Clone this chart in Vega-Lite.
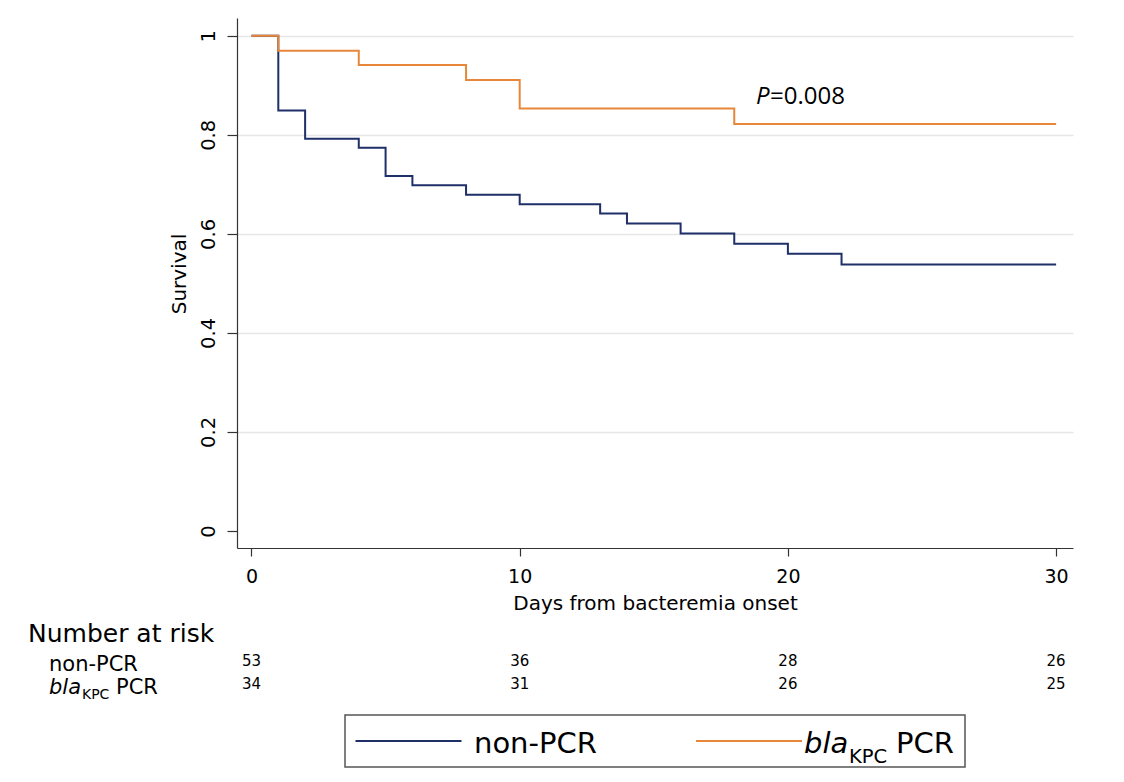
{
  "$schema": "https://vega.github.io/schema/vega-lite/v6.json",
  "background": "white",
  "padding": {"left": 27, "top": 18, "right": 52, "bottom": 15},
  "config": {
    "view": {"stroke": null},
    "font": "DejaVu Sans",
    "axis": {
      "labelFont": "DejaVu Sans",
      "titleFont": "DejaVu Sans",
      "labelColor": "#000",
      "titleColor": "#000",
      "titleFontWeight": "normal",
      "domainColor": "#333",
      "tickColor": "#333",
      "domainWidth": 1.2,
      "tickWidth": 1.2,
      "labelFlush": false
    },
    "text": {"color": "#000"}
  },
  "datasets": {
    "km": [
      {"group": "non-PCR", "day": 0, "surv": 1},
      {"group": "non-PCR", "day": 1, "surv": 0.849},
      {"group": "non-PCR", "day": 2, "surv": 0.792},
      {"group": "non-PCR", "day": 4, "surv": 0.774},
      {"group": "non-PCR", "day": 5, "surv": 0.717},
      {"group": "non-PCR", "day": 6, "surv": 0.698},
      {"group": "non-PCR", "day": 8, "surv": 0.679},
      {"group": "non-PCR", "day": 10, "surv": 0.66},
      {"group": "non-PCR", "day": 13, "surv": 0.641},
      {"group": "non-PCR", "day": 14, "surv": 0.621},
      {"group": "non-PCR", "day": 16, "surv": 0.601},
      {"group": "non-PCR", "day": 18, "surv": 0.58},
      {"group": "non-PCR", "day": 20, "surv": 0.56},
      {"group": "non-PCR", "day": 22, "surv": 0.538},
      {"group": "non-PCR", "day": 30, "surv": 0.538},
      {"group": "bla", "day": 0, "surv": 1},
      {"group": "bla", "day": 1, "surv": 0.97},
      {"group": "bla", "day": 4, "surv": 0.941},
      {"group": "bla", "day": 8, "surv": 0.911},
      {"group": "bla", "day": 10, "surv": 0.853},
      {"group": "bla", "day": 18, "surv": 0.822},
      {"group": "bla", "day": 30, "surv": 0.822}
    ],
    "risk": [
      {"group": "non-PCR", "day": 0, "n": 53},
      {"group": "non-PCR", "day": 10, "n": 36},
      {"group": "non-PCR", "day": 20, "n": 28},
      {"group": "non-PCR", "day": 30, "n": 26},
      {"group": "bla", "day": 0, "n": 34},
      {"group": "bla", "day": 10, "n": 31},
      {"group": "bla", "day": 20, "n": 26},
      {"group": "bla", "day": 30, "n": 25}
    ],
    "labels": [
      {"group": "Number at risk", "part": "header", "label": "Number at risk"},
      {"group": "non-PCR", "part": "main", "label": "non-PCR"},
      {"group": "bla", "part": "italic", "label": "bla"},
      {"group": "bla", "part": "sub", "label": "KPC"},
      {"group": "bla", "part": "rest", "label": "PCR"}
    ]
  },
  "bounds": "flush",
  "spacing": 14.5,
  "center": true,
  "vconcat": [
    {
      "width": 836,
      "height": 530,
      "layer": [
        {
          "data": {"name": "km"},
          "mark": {"type": "line", "interpolate": "step-after", "strokeWidth": 2},
          "encoding": {
            "x": {
              "field": "day", "type": "quantitative",
              "scale": {"domain": [-0.54, 30.63], "nice": false, "zero": false},
              "axis": {
                "values": [0, 10, 20, 30],
                "title": "Days from bacteremia onset",
                "labelFontSize": 19,
                "titleFontSize": 20,
                "tickSize": 8,
                "labelPadding": 11,
                "titlePadding": 7,
                "grid": false
              }
            },
            "y": {
              "field": "surv", "type": "quantitative",
              "scale": {"domain": [-0.0343, 1.036], "nice": false, "zero": false},
              "axis": {
                "values": [0, 0.2, 0.4, 0.6, 0.8, 1],
                "format": "~g",
                "title": "Survival",
                "labelFontSize": 19.5,
                "titleFontSize": 20,
                "tickSize": 10,
                "labelAngle": -90,
                "labelAlign": "center",
                "labelBaseline": "alphabetic",
                "labelPadding": 13,
                "titlePadding": 9,
                "titleY": 255.5,
                "grid": true,
                "gridColor": "#e6e6e6",
                "gridWidth": 1.5,
                "gridOpacity": {"condition": {"test": "datum.value === 0", "value": 0}, "value": 1}
              }
            },
            "color": {
              "field": "group", "type": "nominal",
              "scale": {"domain": ["non-PCR", "bla"], "range": ["#1f2f68", "#e8873a"]},
              "legend": null
            }
          }
        },
        {
          "data": {"values": [{"label": "P"}]},
          "mark": {"type": "text", "font": "Open Sans", "fontSize": 24, "fontStyle": "italic", "align": "left", "baseline": "alphabetic"},
          "encoding": {
            "x": {"datum": 18.81, "type": "quantitative"},
            "y": {"datum": 0.8626, "type": "quantitative"},
            "text": {"field": "label", "type": "nominal"}
          }
        },
        {
          "data": {"values": [{"label": "=0.008"}]},
          "mark": {"type": "text", "font": "Open Sans", "fontSize": 24, "align": "left", "baseline": "alphabetic", "dx": 14},
          "encoding": {
            "x": {"datum": 18.81, "type": "quantitative"},
            "y": {"datum": 0.8626, "type": "quantitative"},
            "text": {"field": "label", "type": "nominal"}
          }
        }
      ]
    },
    {
      "width": 836,
      "height": 138,
      "layer": [
        {
          "data": {"name": "risk"},
          "mark": {"type": "text", "fontSize": 15, "align": "center", "baseline": "middle"},
          "encoding": {
            "x": {"field": "day", "type": "quantitative", "scale": {"domain": [-0.54, 30.63], "nice": false, "zero": false}, "axis": null},
            "y": {"field": "group", "type": "nominal", "scale": {"type": "point", "domain": ["Number at risk", "non-PCR", "bla"], "range": [75.5, 121.5], "padding": 0}, "axis": null},
            "text": {"field": "n", "type": "quantitative"}
          }
        },
        {
          "data": {"name": "labels"},
          "transform": [{"filter": "datum.part === 'header'"}],
          "mark": {"type": "text", "fontSize": 25, "align": "left", "baseline": "alphabetic", "dy": 4},
          "encoding": {
            "x": {"datum": -8.333, "type": "quantitative", "scale": {"domain": [-0.54, 30.63], "nice": false, "zero": false}, "axis": null},
            "y": {"field": "group", "type": "nominal", "scale": {"type": "point", "domain": ["Number at risk", "non-PCR", "bla"], "range": [75.5, 121.5], "padding": 0}, "axis": null},
            "text": {"field": "label", "type": "nominal"}
          }
        },
        {
          "data": {"name": "labels"},
          "transform": [{"filter": "datum.part === 'main'"}],
          "mark": {"type": "text", "fontSize": 21, "align": "left", "baseline": "alphabetic", "dy": 10},
          "encoding": {
            "x": {"datum": -7.55, "type": "quantitative", "scale": {"domain": [-0.54, 30.63], "nice": false, "zero": false}, "axis": null},
            "y": {"field": "group", "type": "nominal", "scale": {"type": "point", "domain": ["Number at risk", "non-PCR", "bla"], "range": [75.5, 121.5], "padding": 0}, "axis": null},
            "text": {"field": "label", "type": "nominal"}
          }
        },
        {
          "data": {"name": "labels"},
          "transform": [{"filter": "datum.part === 'italic'"}],
          "mark": {"type": "text", "fontSize": 21, "fontStyle": "italic", "align": "left", "baseline": "alphabetic", "dy": 10},
          "encoding": {
            "x": {"datum": -7.55, "type": "quantitative", "scale": {"domain": [-0.54, 30.63], "nice": false, "zero": false}, "axis": null},
            "y": {"field": "group", "type": "nominal", "scale": {"type": "point", "domain": ["Number at risk", "non-PCR", "bla"], "range": [75.5, 121.5], "padding": 0}, "axis": null},
            "text": {"field": "label", "type": "nominal"}
          }
        },
        {
          "data": {"name": "labels"},
          "transform": [{"filter": "datum.part === 'sub'"}],
          "mark": {"type": "text", "fontSize": 14, "align": "left", "baseline": "alphabetic", "dx": 33, "dy": 15},
          "encoding": {
            "x": {"datum": -7.55, "type": "quantitative", "scale": {"domain": [-0.54, 30.63], "nice": false, "zero": false}, "axis": null},
            "y": {"field": "group", "type": "nominal", "scale": {"type": "point", "domain": ["Number at risk", "non-PCR", "bla"], "range": [75.5, 121.5], "padding": 0}, "axis": null},
            "text": {"field": "label", "type": "nominal"}
          }
        },
        {
          "data": {"name": "labels"},
          "transform": [{"filter": "datum.part === 'rest'"}],
          "mark": {"type": "text", "fontSize": 21, "align": "left", "baseline": "alphabetic", "dx": 67, "dy": 10},
          "encoding": {
            "x": {"datum": -7.55, "type": "quantitative", "scale": {"domain": [-0.54, 30.63], "nice": false, "zero": false}, "axis": null},
            "y": {"field": "group", "type": "nominal", "scale": {"type": "point", "domain": ["Number at risk", "non-PCR", "bla"], "range": [75.5, 121.5], "padding": 0}, "axis": null},
            "text": {"field": "label", "type": "nominal"}
          }
        }
      ]
    },
    {
      "width": 620,
      "height": 52,
      "view": {"stroke": "#555", "strokeWidth": 1.5},
      "layer": [
        {
          "data": {"values": [{"group": "non-PCR"}, {"group": "bla"}]},
          "mark": {"type": "point", "shape": "stroke", "size": 11236, "strokeWidth": 2, "opacity": 1, "filled": false},
          "encoding": {
            "x": {"field": "group", "type": "nominal", "scale": {"type": "point", "domain": ["non-PCR", "bla"], "range": [63.5, 404], "padding": 0}, "axis": null},
            "color": {"field": "group", "type": "nominal", "legend": null}
          }
        },
        {
          "data": {"name": "labels"},
          "transform": [{"filter": "datum.part === 'main'"}],
          "mark": {"type": "text", "fontSize": 29, "align": "left", "baseline": "alphabetic", "dx": 65.5, "dy": 12.3},
          "encoding": {
            "x": {"field": "group", "type": "nominal", "scale": {"type": "point", "domain": ["non-PCR", "bla"], "range": [63.5, 404], "padding": 0}, "axis": null},
            "text": {"field": "label", "type": "nominal"}
          }
        },
        {
          "data": {"name": "labels"},
          "transform": [{"filter": "datum.part === 'italic'"}],
          "mark": {"type": "text", "fontSize": 29, "fontStyle": "italic", "align": "left", "baseline": "alphabetic", "dx": 55, "dy": 12.3},
          "encoding": {
            "x": {"field": "group", "type": "nominal", "scale": {"type": "point", "domain": ["non-PCR", "bla"], "range": [63.5, 404], "padding": 0}, "axis": null},
            "text": {"field": "label", "type": "nominal"}
          }
        },
        {
          "data": {"name": "labels"},
          "transform": [{"filter": "datum.part === 'sub'"}],
          "mark": {"type": "text", "fontSize": 19.5, "align": "left", "baseline": "alphabetic", "dx": 100, "dy": 21.8},
          "encoding": {
            "x": {"field": "group", "type": "nominal", "scale": {"type": "point", "domain": ["non-PCR", "bla"], "range": [63.5, 404], "padding": 0}, "axis": null},
            "text": {"field": "label", "type": "nominal"}
          }
        },
        {
          "data": {"name": "labels"},
          "transform": [{"filter": "datum.part === 'rest'"}],
          "mark": {"type": "text", "fontSize": 29, "align": "left", "baseline": "alphabetic", "dx": 147, "dy": 12.3},
          "encoding": {
            "x": {"field": "group", "type": "nominal", "scale": {"type": "point", "domain": ["non-PCR", "bla"], "range": [63.5, 404], "padding": 0}, "axis": null},
            "text": {"field": "label", "type": "nominal"}
          }
        }
      ]
    }
  ]
}
